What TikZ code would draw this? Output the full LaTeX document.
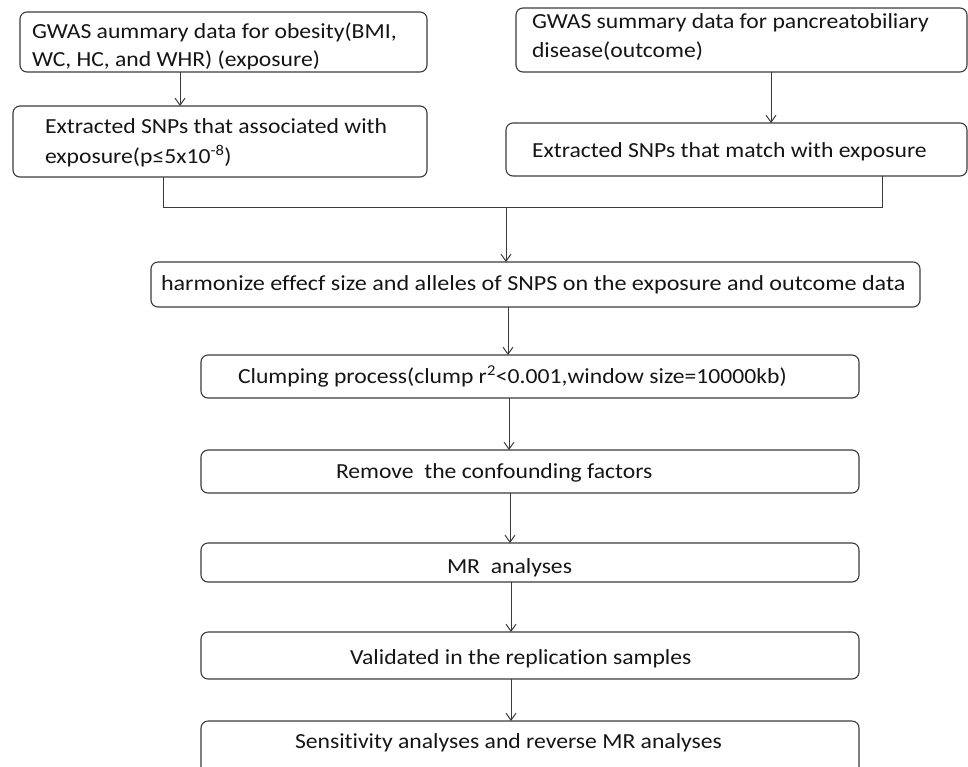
\documentclass[tikz,border=0pt]{standalone}
\usepackage{fontspec}
\setmainfont{Carlito}[FakeStretch=1.1, Ligatures=CommonOff]
\usetikzlibrary{arrows.meta}
\definecolor{linec}{HTML}{3A3A3A}
\definecolor{txtc}{HTML}{151515}
\begin{document}
\begin{tikzpicture}[x=1pt,y=-1pt,
  box/.style={draw=linec, line width=1.1pt, rounded corners=7pt, inner sep=0pt, outer sep=0pt, anchor=north west},
  lbl/.style={anchor=base west, inner sep=0pt, outer sep=0pt, text=txtc, font=\fontsize{21.5}{26}\selectfont},
  arr/.style={draw=linec, line width=1pt, -{Straight Barb[length=7pt,width=10pt]}},
  conn/.style={draw=linec, line width=1pt}]
\path[use as bounding box] (0,0) rectangle (968,766);
\clip (0,0) rectangle (968,766);
% boxes
\node[box, minimum width=407pt, minimum height=60pt] (A) at (20,12) {};
\node[box, minimum width=414pt, minimum height=71pt] (B) at (13,106) {};
\node[box, minimum width=451pt, minimum height=64pt] (C) at (516,8) {};
\node[box, minimum width=461pt, minimum height=53pt] (D) at (506,123) {};
\node[box, minimum width=769pt, minimum height=45pt] (E) at (151,262) {};
\node[box, minimum width=658pt, minimum height=43pt] (F) at (201,355) {};
\node[box, minimum width=658pt, minimum height=43pt] (G) at (201,450) {};
\node[box, minimum width=658pt, minimum height=39pt] (H) at (201,543) {};
\node[box, minimum width=658pt, minimum height=47pt] (I) at (201,632) {};
\node[box, minimum width=658pt, minimum height=70pt] (J) at (201,721) {};
% texts
\node[lbl] (tA1) at (32,38) {GWAS aummary data for obesity(BMI,};
\node[lbl] (tA2) at (32,66.5) {WC, HC, and WHR) (exposure)};
\node[lbl] (tB1) at (45,133) {Extracted SNPs that associated with};
\node[lbl] (tB2) at (45,163) {exposure(p≤5x10\textsuperscript{-8})};
\node[lbl] (tC1) at (532,28) {GWAS summary data for pancreatobiliary};
\node[lbl] (tC2) at (532,57) {disease(outcome)};
\node[lbl] (tD) at (532,157) {Extracted SNPs that match with exposure};
\node[lbl] (tE) at (161,290) {\scalebox{1.02}[1]{harmonize effecf size and alleles of SNPS on the exposure and outcome data}};
\node[lbl] (tF) at (238,383) {Clumping process(clump r\textsuperscript{2}<0.001,window size=10000kb)};
\node[lbl] (tG) at (336,478) {Remove~~the confounding factors};
\node[lbl] (tH) at (447,573) {MR~~analyses};
\node[lbl] (tI) at (350,664) {Validated in the replication samples};
\node[lbl] (tJ) at (295,748) {Sensitivity analyses and reverse MR analyses};
% connector x positions
\coordinate (xab) at (180,0);
\coordinate (xcd) at (771,0);
\coordinate (xb) at (163,0);
\coordinate (xd) at (882,0);
\coordinate (j) at (506,207);
\coordinate (xef) at (508,0);
\coordinate (xfg) at (509,0);
\coordinate (xgh) at (510,0);
\coordinate (xhi) at (511,0);
\coordinate (xij) at (511,0);
% connectors
\draw[arr] (xab |- A.south) -- (xab |- B.north);
\draw[arr] (xcd |- C.south) -- (xcd |- D.north);
\draw[conn] (xb |- B.south) -- (xb |- j) -- (xd |- j) -- (xd |- D.south);
\draw[arr] (j) -- (j |- E.north);
\draw[arr] (xef |- E.south) -- (xef |- F.north);
\draw[arr] (xfg |- F.south) -- (xfg |- G.north);
\draw[arr] (xgh |- G.south) -- (xgh |- H.north);
\draw[arr] (xhi |- H.south) -- (xhi |- I.north);
\draw[arr] (xij |- I.south) -- (xij |- J.north);
\end{tikzpicture}
\end{document}
